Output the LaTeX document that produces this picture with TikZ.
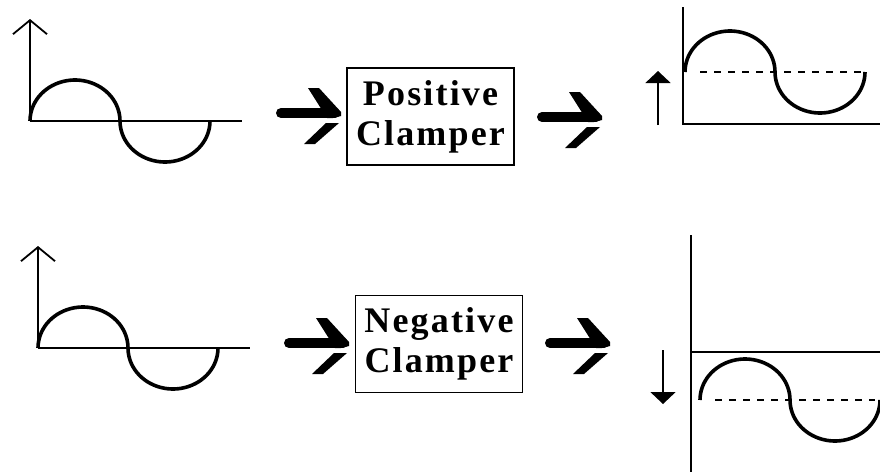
\documentclass[tikz,border=0pt]{standalone}
\usepackage{fontspec}
\usepackage{tikz}
\usetikzlibrary{arrows.meta, positioning}
\newfontfamily\clampfont[LetterSpace=6]{Liberation Serif}

\begin{document}
\begin{tikzpicture}[
      x=1pt, y=-1pt,
      axis/.style={line width=1.8pt},
      axisup/.style={axis, -{Straight Barb[length=14pt, width=34pt]}},
      wave/.style={line width=3.6pt, line join=round},
      dcline/.style={line width=1.8pt, dash pattern=on 7pt off 7pt},
      shiftarrow/.style={-{Triangle[length=12pt, width=25pt]}, line width=1.8pt},
      clamp/.style={rectangle, draw, line width=1.6pt, minimum width=167pt, minimum height=97pt, inner sep=0pt, align=center, font=\clampfont\bfseries\fontsize{36}{40}\selectfont},
      sinewave/.pic={\draw[wave] plot[domain=180:0, samples=40] ({45+45*cos(\x)}, {-41*sin(\x)})
                                   -- plot[domain=180:360, samples=40] ({135+45*cos(\x)}, {-41*sin(\x)});},
      fatarrow/.pic={\draw[line width=10pt, line cap=round] (-60,0) -- (-6,0);
                     \fill (-33,-25) -- (-22,-25) -- (0,-1) -- (0,3) -- (-8,5) -- (-14,5) -- cycle;
                     \fill (-15,10) -- (-2,10) -- (-26,31) -- (-37,31) -- cycle;},
  ]
  \useasboundingbox (0,0) rectangle (880,472);

  % Clampers
  \node[clamp] (pos) at (430.5,116.5) {Positive\\Clamper};
  \node[clamp] (neg) at (439,344) {Negative\\Clamper};

  % Inputs
  \coordinate (in1) at (30,121);
  \coordinate (in2) at (38,348);
  \draw[axisup] (in1) -- ++(0,-102);
  \draw[axis] (in1) -- ++(212,0);
  \pic at (in1) {sinewave};
  \draw[axisup] (in2) -- ++(0,-102);
  \draw[axis] (in2) -- ++(212,0);
  \pic at (in2) {sinewave};

  % Outputs
  \coordinate (out1) at (683,124);
  \coordinate (out2) at (691,352);
  \draw[axis] (683,7) -- (out1) -- (880,124);
  \draw[dcline] (700,72) -- (863,72);
  \pic at (685,72) {sinewave};
  \draw[shiftarrow] (658,125) -- (658,71);
  \draw[axis] (691,235) -- (691,472);
  \draw[axis] (out2) -- (880,352);
  \draw[dcline] (715,400) -- (875,400);
  \pic at (700,400) {sinewave};
  \draw[shiftarrow] (663,350) -- (663,404);

  % Arrows
  \coordinate (a1) at (341,113);
  \coordinate (a2) at (602,117);
  \coordinate (a3) at (349,343);
  \coordinate (a4) at (610,343);
  \pic at (a1) {fatarrow};
  \pic at (a2) {fatarrow};
  \pic at (a3) {fatarrow};
  \pic at (a4) {fatarrow};

  \end{tikzpicture}
\end{document}
